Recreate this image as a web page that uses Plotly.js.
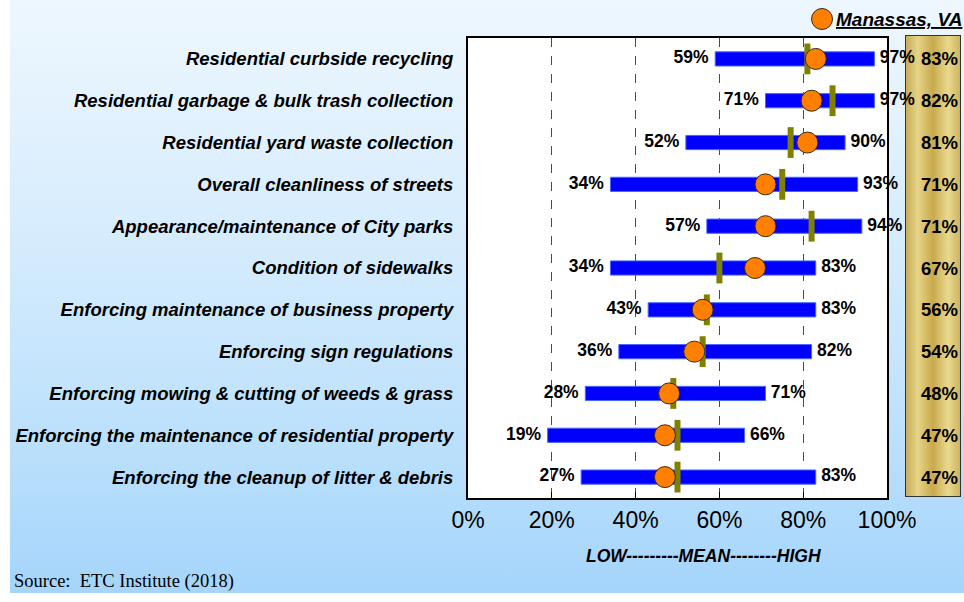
<!DOCTYPE html>
<html>
<head>
<meta charset="utf-8">
<script src="https://cdn.plot.ly/plotly-3.0.1.min.js"></script>
<style>
  html, body { margin: 0; padding: 0; background: #ffffff; width: 964px; height: 602px; overflow: hidden; }
  #bg { position: absolute; left: 10px; top: 0; width: 954px; height: 593px;
        background: linear-gradient(to bottom, #eef7fe 0%, #d6ecfd 40%, #bfe2fc 70%, #a5d5fb 100%); z-index: 0; }
  #gold { position: absolute; left: 905px; top: 35px; width: 56px; height: 462px; box-sizing: border-box;
          border: 1px solid #333;
          background: linear-gradient(to right, #c8ad5a 0%, #e6d488 22%, #c9aa4c 50%, #e9d98f 78%, #cdb462 100%); z-index: 1; }
  #chart { position: absolute; left: 0; top: 0; width: 964px; height: 602px; z-index: 2; }
</style>
</head>
<body>
<div id="bg"></div>
<div id="gold"></div>
<div id="chart"></div>
<script>
// ---- data ----
var categories = [
  "Residential curbside recycling",
  "Residential garbage & bulk trash collection",
  "Residential yard waste collection",
  "Overall cleanliness of streets",
  "Appearance/maintenance of City parks",
  "Condition of sidewalks",
  "Enforcing maintenance of business property",
  "Enforcing sign regulations",
  "Enforcing mowing & cutting of weeds & grass",
  "Enforcing the maintenance of residential property",
  "Enforcing the cleanup of litter & debris"
];
var lowValues  = [59, 71, 52, 34, 57, 34, 43, 36, 28, 19, 27];
var highValues = [97, 97, 90, 93, 94, 83, 83, 82, 71, 66, 83];
var meanValues = [81, 87, 77, 75, 82, 60, 57, 56, 49, 50, 50];
var manassasValues = [83, 82, 81, 71, 71, 68.5, 56, 54, 48, 47, 47];
var manassasLabels = ["83%", "82%", "81%", "71%", "71%", "67%", "56%", "54%", "48%", "47%", "47%"];
var xTickValues = [0, 20, 40, 60, 80, 100];
var xTickLabels = ["0%", "20%", "40%", "60%", "80%", "100%"];

// ---- traces ----
var labelFont = {family: "Liberation Sans, Arial, sans-serif", size: 17.5, color: "#000", weight: "bold"};

var rangeBars = {
  type: "bar", orientation: "h",
  y: categories,
  base: lowValues,
  x: highValues.map(function (h, i) { return h - lowValues[i]; }),
  width: 0.34,
  marker: {color: "#0000ff", line: {color: "#4a68ff", width: 1}},
  hoverinfo: "skip", showlegend: false
};
var lowText = {
  type: "scatter", mode: "markers+text", y: categories, x: lowValues,
  text: lowValues.map(function (v) { return v + "%"; }),
  marker: {size: 9, color: "rgba(0,0,0,0)"},
  textposition: "middle left", textfont: labelFont, cliponaxis: false,
  hoverinfo: "skip", showlegend: false
};
var highText = {
  type: "scatter", mode: "markers+text", y: categories, x: highValues,
  text: highValues.map(function (v) { return v + "%"; }),
  marker: {size: 7, color: "rgba(0,0,0,0)"},
  textposition: "middle right", textfont: labelFont, cliponaxis: false,
  hoverinfo: "skip", showlegend: false
};
var meanMarks = {
  type: "scatter", mode: "markers", y: categories, x: meanValues,
  marker: {symbol: "line-ns", size: 22, line: {color: "#808000", width: 6}},
  cliponaxis: false, hoverinfo: "skip", showlegend: false
};
var manassasDots = {
  type: "scatter", mode: "markers", y: categories, x: manassasValues,
  marker: {symbol: "circle", size: 21, color: "#ff8000", line: {color: "#3b2a12", width: 1}},
  cliponaxis: false, hoverinfo: "skip", showlegend: false
};

// ---- panel annotations ----
var annotations = categories.map(function (c, i) {
  return {xref: "paper", yref: "y", x: 1.126, y: c, text: "<b>" + manassasLabels[i] + "</b>",
          showarrow: false, xanchor: "center", yanchor: "middle",
          font: {family: "Liberation Sans, Arial, sans-serif", size: 18.5, color: "#000"}};
});
annotations.push({
  xref: "paper", yref: "paper", x: 0.8735, y: 1.0413, xanchor: "left", yanchor: "middle",
  text: "<b><i><u>Manassas, VA</u></i></b>", showarrow: false,
  font: {family: "Liberation Sans, Arial, sans-serif", size: 19, color: "#000"}
});
annotations.push({
  xref: "paper", yref: "paper", x: 0.562, y: -0.127, xanchor: "center", yanchor: "middle",
  text: "<b><i>LOW---------MEAN--------HIGH</i></b>", showarrow: false,
  font: {family: "Liberation Sans, Arial, sans-serif", size: 17.5, color: "#000"}
});
annotations.push({
  xref: "paper", yref: "paper", x: -1.088, y: -0.182, xanchor: "left", yanchor: "middle",
  text: "Source:  ETC Institute (2018)", showarrow: false,
  font: {family: "Liberation Serif, Times New Roman, serif", size: 18.5, color: "#000"}
});

var layout = {
  width: 964, height: 602,
  margin: {l: 468, r: 77, t: 38, b: 104},
  paper_bgcolor: "rgba(0,0,0,0)",
  plot_bgcolor: "#ffffff",
  showlegend: false,
  barmode: "overlay",
  xaxis: {
    range: [0, 100], tickvals: xTickValues, ticktext: xTickLabels,
    showgrid: true, griddash: "dash", gridcolor: "#4a4a4a", gridwidth: 1,
    zeroline: false, showline: true, mirror: true, linecolor: "#000", linewidth: 2,
    ticks: "inside", ticklen: 6, tickcolor: "#000", tickwidth: 1,
    tickfont: {family: "Liberation Sans, Arial, sans-serif", size: 23, color: "#000"},
    fixedrange: true
  },
  yaxis: {
    type: "category", categoryorder: "array", categoryarray: categories,
    range: [10.5, -0.5],
    showgrid: false, zeroline: false, showline: true, mirror: true, linecolor: "#000", linewidth: 2,
    ticks: "", ticklabelstandoff: 9,
    tickfont: {family: "Liberation Sans, Arial, sans-serif", size: 18.5, color: "#000", weight: "bold", style: "italic"},
    fixedrange: true
  },
  shapes: [{
    type: "circle", xref: "paper", yref: "paper", xsizemode: "pixel", ysizemode: "pixel",
    xanchor: 0.8449, yanchor: 1.0413, x0: -10.5, x1: 10.5, y0: -10.5, y1: 10.5,
    fillcolor: "#ff8000", line: {color: "#3b2a12", width: 1}
  }],
  annotations: annotations
};

Plotly.newPlot("chart", [rangeBars, meanMarks, manassasDots, lowText, highText], layout, {displayModeBar: false, staticPlot: true});
</script>
</body>
</html>
